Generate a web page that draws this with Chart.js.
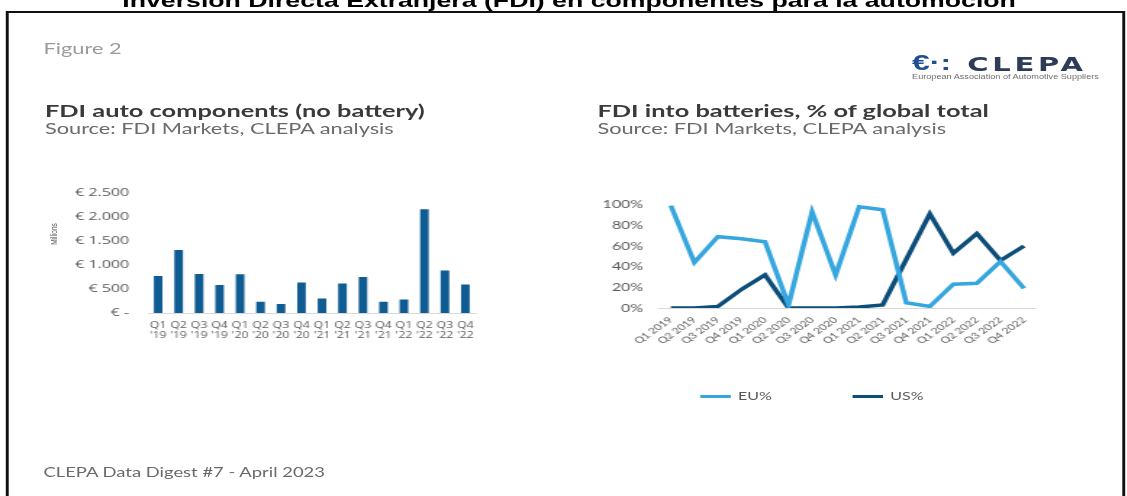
<!DOCTYPE html>
<html>
<head>
<meta charset="utf-8">
<script src="https://cdn.jsdelivr.net/npm/chart.js@4.4.0/dist/chart.umd.min.js"></script>
<style>
  html, body { margin: 0; padding: 0; background: #fff; overflow: hidden; }
  /* the reference is a horizontally stretched screenshot, so the whole page is drawn narrow and stretched */
  #stage { position: absolute; left: 0; top: 0; width: 777px; height: 496px; transform: scaleX(1.45); transform-origin: 0 0; font-family: Lato, "Open Sans", sans-serif; }
  .t { position: absolute; white-space: nowrap; line-height: 1; }
  #frame { position: absolute; left: 4px; top: 11px; width: 768px; height: 500px; border: 2px solid #111; }
  #page-title { left: 4px; width: 777px; text-align: center; top: -10.5px; font: bold 18.4px "Liberation Sans", Arial, sans-serif; color: #000; }
  #figure { left: 30px; top: 41px; font-size: 15px; color: #9a9a9a; }
  .head { font-size: 17.5px; font-weight: 700; color: #3a3a3a; top: 102px; }
  .src { font-size: 15px; color: #6a6a6a; top: 121px; }
  #footer { left: 30px; top: 466px; font-size: 12.7px; color: #6a6a6a; }
  #logo { position: absolute; left: 628px; top: 48px; width: 130px; }
  #logo .mark { position: absolute; left: 1px; top: 2px; font: bold 22px "Liberation Sans", Arial, sans-serif; color: #1d4f91; }
  #logo .name { position: absolute; left: 39px; top: 4px; font: bold 20px "DejaVu Sans", sans-serif; letter-spacing: 2.6px; color: #2e3d57; }
  #logo .sub { position: absolute; left: 1px; top: 25px; font: 6.3px "Liberation Sans", Arial, sans-serif; color: #6d6d6d; white-space: nowrap; }
  #millions { left: 37px; top: 234px; font: 6.5px "Liberation Sans", Arial, sans-serif; color: #595959; transform: translate(-50%, -50%) rotate(-90deg); }
  canvas { position: absolute; }
  #barChart { left: 20px; top: 173px; }
  #lineChart { left: 410px; top: 187px; }
  .leg { position: absolute; top: 390px; font-size: 11px; color: #595959; white-space: nowrap; line-height: 1; }
  .leg i { display: inline-block; width: 21px; height: 3px; vertical-align: middle; margin-right: 5px; position: relative; top: -1px; }
</style>
</head>
<body>
<div id="stage">
  <div class="t" id="page-title">Inversión Directa Extranjera (FDI) en componentes para la automoción</div>
  <div id="frame"></div>
  <div class="t" id="figure">Figure 2</div>
  <div id="logo">
    <span class="mark">€·:</span>
    <span class="name">CLEPA</span>
    <span class="sub">European Association of Automotive Suppliers</span>
  </div>
  <div class="t head" style="left:31px">FDI auto components (no battery)</div>
  <div class="t src" style="left:31px">Source: FDI Markets, CLEPA analysis</div>
  <div class="t head" style="left:412px">FDI into batteries, % of global total</div>
  <div class="t src" style="left:412px">Source: FDI Markets, CLEPA analysis</div>

  <div class="t" id="millions">Millions</div>
  <canvas id="barChart" width="315" height="172"></canvas>
  <canvas id="lineChart" width="315" height="171"></canvas>

  <div class="leg" style="left:483px"><i style="background:#35a6de"></i>EU%</div>
  <div class="leg" style="left:588px"><i style="background:#0c4e7a"></i>US%</div>

  <div class="t" id="footer">CLEPA Data Digest #7 - April 2023</div>
</div>

<script>
// FDI auto components (no battery), EUR millions per quarter
const barLabels = [
  ["Q1", "'19"], ["Q2", "'19"], ["Q3", "'19"], ["Q4", "'19"],
  ["Q1", "'20"], ["Q2", "'20"], ["Q3", "'20"], ["Q4", "'20"],
  ["Q1", "'21"], ["Q2", "'21"], ["Q3", "'21"], ["Q4", "'21"],
  ["Q1", "'22"], ["Q2", "'22"], ["Q3", "'22"], ["Q4", "'22"]
];
const barValues = [770, 1310, 812, 583, 806, 235, 188, 635, 302, 615, 746, 233, 281, 2156, 885, 594];
const barTicks = [0, 500, 1000, 1500, 2000, 2500];

// FDI into batteries, share of global total (%)
const lineLabels = [
  "Q1 2019", "Q2 2019", "Q3 2019", "Q4 2019",
  "Q1 2020", "Q2 2020", "Q3 2020", "Q4 2020",
  "Q1 2021", "Q2 2021", "Q3 2021", "Q4 2021",
  "Q1 2022", "Q2 2022", "Q3 2022", "Q4 2022"
];
const euShare = [99, 44, 69, 67, 64, 3, 93, 32, 98, 95, 5, 1.5, 23, 24, 45, 19];
const usShare = [0, 0, 1.5, 18, 32, 0, 0, 0, 1, 3, 47, 91, 53, 72, 46, 60];
const lineTicks = [0, 20, 40, 60, 80, 100];

const tickGrey = "#595959";
const axisGrey = "#d9d9d9";

function euro(v) {
  if (v === 0) return "€ -";
  return "€ " + String(v).replace(/\B(?=(\d{3})+(?!\d))/g, ".");
}

new Chart(document.getElementById("barChart"), {
  type: "bar",
  data: {
    labels: barLabels,
    datasets: [{
      data: barValues,
      backgroundColor: "#0f5c92",
      barPercentage: 0.42,
      categoryPercentage: 1
    }]
  },
  options: {
    responsive: false,
    animation: false,
    layout: { padding: { top: 0, right: 7, left: 0, bottom: 0 } },
    plugins: { legend: { display: false }, tooltip: { enabled: false } },
    scales: {
      x: {
        grid: { display: false, drawTicks: false },
        border: { display: true, color: axisGrey, width: 1 },
        ticks: { color: tickGrey, padding: 7, autoSkip: false, maxRotation: 0, font: { family: "'Open Sans'", size: 8.5, lineHeight: 1.2 } },
        afterFit: (s) => { s.height = 32; }
      },
      y: {
        min: 0,
        max: 2500,
        afterBuildTicks: (s) => { s.ticks = barTicks.map(v => ({ value: v })); },
        grid: { display: false, drawTicks: false },
        border: { display: false },
        ticks: { color: tickGrey, padding: 13, font: { family: "'Open Sans'", size: 11 }, callback: (v) => euro(v) },
        afterFit: (s) => { s.width = 82; }
      }
    }
  }
});

new Chart(document.getElementById("lineChart"), {
  type: "line",
  data: {
    labels: lineLabels,
    datasets: [
      { label: "EU%", data: euShare, borderColor: "#35a6de", backgroundColor: "#35a6de", borderWidth: 3.5, pointRadius: 0, tension: 0 },
      { label: "US%", data: usShare, borderColor: "#0c4e7a", backgroundColor: "#0c4e7a", borderWidth: 3.5, pointRadius: 0, tension: 0 }
    ]
  },
  options: {
    responsive: false,
    animation: false,
    layout: { padding: { top: 0, right: 10.7, left: 0, bottom: 0 } },
    plugins: { legend: { display: false }, tooltip: { enabled: false } },
    scales: {
      x: {
        offset: true,
        grid: { display: false, drawTicks: false, offset: true },
        border: { display: true, color: axisGrey, width: 1 },
        ticks: { color: tickGrey, padding: 7, autoSkip: false, minRotation: 45, maxRotation: 45, font: { family: "Lato", size: 8.5 } },
        afterFit: (s) => { s.height = 50; }
      },
      y: {
        min: 0,
        max: 100,
        afterBuildTicks: (s) => { s.ticks = lineTicks.map(v => ({ value: v })); },
        grid: { display: false, drawTicks: false },
        border: { display: false },
        ticks: { color: tickGrey, padding: 11, font: { family: "Lato", size: 11 }, callback: (v) => v + "%" },
        afterFit: (s) => { s.width = 44.5; }
      }
    }
  }
});
</script>
</body>
</html>
